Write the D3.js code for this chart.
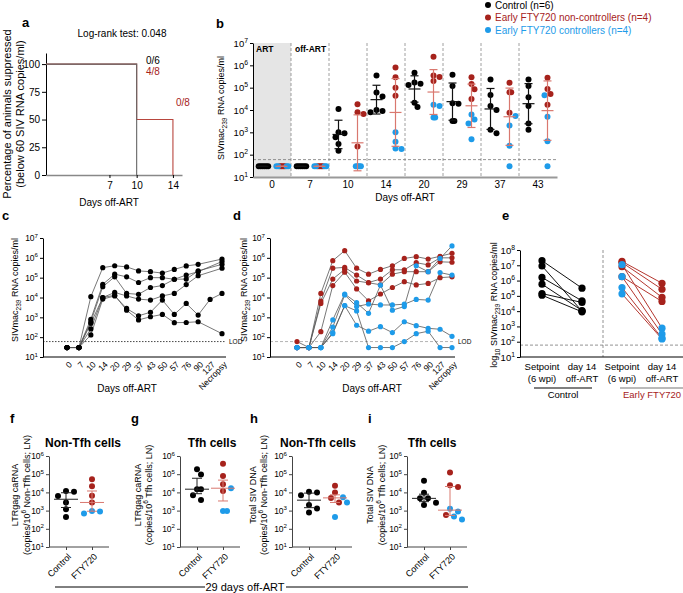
<!DOCTYPE html>
<html><head><meta charset="utf-8">
<script src="https://cdn.jsdelivr.net/npm/d3@7/dist/d3.min.js"></script>
<style>html,body{margin:0;padding:0;background:#fff;} svg{display:block}</style>
</head><body>
<svg id="fig" width="683" height="593"></svg>
<script>
// ================= DATA =================
const RED = "#a6221c", BLUE = "#1e9be9", LRED = "#d9786f";

// panel a
const aTicksX = [7, 10, 14];
const aTicksY = [0, 25, 50, 75, 100];
const aControlSteps = [{day:0,pct:100},{day:10,pct:0}];
const aFtySteps = [{day:0,pct:100},{day:10,pct:50},{day:14,pct:0}];

// panel b (copies/ml)
const bDays = ["0","7","10","14","20","29","37","43"];
const bControl = [
 [30,30,30,30,30,30],
 [30,30,30,30,30,30],
 [1.1e4,1.0e3,9.0e2,6.0e2,3.0e2,1.5e2],
 [3.5e5,6.0e4,4.0e4,1.0e4,9.0e3,8.0e3],
 [4.7e5,1.7e5,1.5e5,1.3e5,2.1e4,1.35e4],
 [3.8e5,1.2e5,2.0e4,1.9e4,3.2e3,3.2e3],
 [2.3e5,4.7e4,1.5e4,1.0e4,1.3e3,9.0e2],
 [2.3e5,1.2e5,3.7e4,1.5e4,2.5e3,1.3e3]
];
const bNonCtrl = [
 [30,30,30,30],[30,30,30,30],
 [1.8e4,8.0e3,6.6e3,2.3e2],
 [8.0e5,2.9e5,1.0e5,4.4e4],
 [2.4e6,3.5e5,3.0e5,2.0e5],
 [2.9e5,1.45e5,8.5e4,3.1e4],
 [1.65e5,6.2e4,6.2e4,7.6e3],
 [2.8e5,8.7e4,5.2e4,1.7e4]
];
const bCtrlr = [
 [30,30,30,30],[30,30,30,30],[30,30,30,30],
 [1.0e3,3.8e2,1.9e2,1.8e2],
 [1.5e4,1.7e4,4.6e3,4.6e3],
 [6.3e3,3.8e3,2.5e3,4.9e2],
 [5.4e3,2.0e3,2.5e2,30],
 [4.6e4,5.0e3,4.0e2,30]
];

// panels c, d
const cDays = ["0","7","10","14","20","29","37","43","50","57","76","90","127","Necropsy"];
const cControl = [
 [30,30,1.1e4,3.2e5,4.0e5,3.5e5,2.2e5,2.0e5,1.7e5,2.6e5,3.9e5,4.7e5,null,8.7e5],
 [30,30,8.0e2,4.6e4,1.5e5,1.1e5,5.7e4,1.0e5,1.0e5,8.3e4,1.35e5,2.0e5,null,6.5e5],
 [30,30,6.0e2,3.5e4,1.1e5,1.6e4,1.45e4,3.2e4,4.0e4,8.3e4,8.5e4,2.2e5,null,4.7e5],
 [30,30,2.6e2,1.0e4,1.8e4,1.2e4,8.3e3,7.4e3,1.2e4,1.6e4,4.5e4,1.25e5,null,3.0e5],
 [30,30,1.3e2,8.3e3,1.2e4,2.8e3,1.2e3,1.8e3,7.4e3,1.4e3,5.0e3,1.3e3,8.0e3,1.6e4],
 [30,30,5.0e2,1.0e4,1.3e4,2.3e3,7.4e2,1.07e3,1.4e3,5.4e2,5.5e2,6.0e2,null,1.5e2]
];
const dNonCtrl = [
 [60,30,1.6e4,7.2e5,2.3e6,3.0e5,1.5e5,2.6e5,4.0e5,9.3e5,1.15e6,8.7e5,1.2e6,1.7e6],
 [30,30,6.6e3,3.0e5,3.3e5,1.35e5,5.7e4,8.5e4,2.5e5,2.5e5,5.7e5,4.4e5,1.0e6,1.0e6],
 [30,30,5.0e3,8.5e4,2.6e5,6.8e4,5.5e4,4.4e4,1.5e5,2.0e5,2.0e5,2.0e5,6.3e5,6.0e5],
 [30,30,1.9e2,4.0e4,1.9e5,2.7e4,6.8e3,1.5e4,3.2e4,6.3e4,4.3e4,5.1e4,1.0e5,1.1e5]
];
const dCtrlr = [
 [30,30,30,7.4e2,1.5e4,5.5e3,1.6e3,4.2e4,2.3e3,3.5e3,4.0e5,2.0e5,9.3e5,4.0e6],
 [30,30,30,3.2e2,1.35e4,3.5e3,4.7e3,4.2e3,4.2e3,4.6e3,8.0e3,7.4e3,1.8e5,1.35e5],
 [30,30,30,1.5e2,3.9e3,4.0e2,2.0e2,3.4e2,1.7e2,6.0e2,3.8e2,2.8e2,2.5e2,1.1e2],
 [30,30,30,1.7e2,3.9e3,2.1e3,30,30,30,60,1.5e2,2.0e2,30,30]
];

// panel e
const eGroups = ["ctrlSet","ctrlD14","ftySet","ftyD14"];
const eCtrlSet = [2.0e7,9.0e6,1.6e6,5.8e5,1.4e5,1.1e5];
const eCtrlD14 = [3.2e5,1.0e4,4.7e4,1.1e4,3.7e4,9.0e3];
const eNCSet = [1.8e7,1.5e7,8.0e6,1.8e6];
const eNCD14 = [6.7e5,2.7e5,8.0e4,4.3e4];
const eCSet = [1.1e7,1.8e6,3.5e5,1.35e5];
const eCD14 = [7.7e2,3.2e2,1.7e2,1.5e2];

// panels f-i (29 days off-ART)
const fiGroups = ["Control","FTY720"];
const fCtrl = [1.2e4,1.1e4,6.3e3,2.8e3,1.2e3,4.4e2], fNC = [5.3e4,2.2e4,6.5e3,2.8e3], fC = [7.0e2,9.5e2,9.0e2];
const gCtrl = [1.9e5,9.5e4,1.5e4,1.5e4,7.0e3,3.8e3], gNC = [3.8e5,8.0e4,2.8e4,1.2e4], gC = [1.7e4,9.5e2,9.5e2];
const hCtrl = [1.1e4,1.0e4,7.0e3,2.0e3,1.3e3,7.8e2], hNC = [2.3e4,1.0e4,5.0e3,2.8e3], hC = [2.8e3,5.4e3,4.4e2];
const iCtrl = [4.4e4,9.5e3,4.7e3,4.7e3,2.7e3,2.0e3], iNC = [1.25e5,2.5e4,2.0e4,5.7e2], iC = [1.25e3,9.0e2,4.7e2,3.2e2];

// ================= HELPERS =================
const svg = d3.select("#fig");
const FONT = "Arial, 'Liberation Sans', Helvetica, sans-serif";
svg.attr("font-family", FONT);

function rich(t, parts, fs){
  let cur = 0;
  parts.forEach(p=>{
    const target = p.sub ? 0.3*fs : p.sup ? -0.42*fs : 0;
    const ts = t.append("tspan").text(p.t);
    if (target !== cur){ ts.attr("dy", target-cur); cur = target; }
    if (p.sub || p.sup) ts.attr("font-size", fs*0.72);
  });
  return t;
}
function txt(g, x, y, str, o={}){
  const fs = o.fs||10;
  const t = g.append("text").attr("x",x).attr("y",y).attr("font-size",fs)
    .attr("fill",o.fill||"#000").attr("text-anchor",o.anchor||"start");
  if(o.bold) t.attr("font-weight","bold");
  if(Array.isArray(str)) rich(t,str,fs); else t.text(str);
  return t;
}
function logAxisLeft(g, y, x, exps, fs, color){
  const a = g.append("g").attr("transform",`translate(${x},0)`)
    .call(d3.axisLeft(y).tickValues(exps.map(e=>Math.pow(10,e))).tickSize(3).tickSizeOuter(0).tickPadding(2).tickFormat(()=>""));
  a.select(".domain").attr("stroke", color||"#000");
  a.selectAll(".tick line").attr("stroke", color||"#000");
  a.selectAll(".tick text").each(function(d){
    const t=d3.select(this).attr("font-size",fs).attr("font-family",FONT).attr("fill","#000");
    rich(t,[{t:"10"},{t:String(Math.round(Math.log10(d))),sup:true}],fs);
  });
  return a;
}
function swarm(items, yfn, step, thr, eqStep){
  const placed=[];
  items.slice().sort((a,b)=>b.v-a.v).forEach(o=>{
    const y=yfn(o.v); let dx=0;
    const same = placed.some(p=>Math.abs(p.y-y)<0.01);
    const st = same ? eqStep : step;
    for(let i=0;i<80;i++){
      dx = i===0?0:(i%2?1:-1)*Math.ceil(i/2)*st;
      const ok = placed.every(p=>{
        const dy=Math.abs(p.y-y);
        if(dy<0.01) return Math.abs(p.dx-dx)>=eqStep-0.01;
        return Math.hypot(p.dx-dx,dy)>=thr;
      });
      if(ok) break;
    }
    placed.push(Object.assign({},o,{y,dx}));
  });
  return placed;
}
function geoSD(vals){ const l=vals.map(Math.log10); const m=d3.mean(l), s=d3.deviation(l)||0; return {c:10**m,lo:10**(m-s),hi:10**(m+s)}; }
function medIQR(vals){ const l=vals.map(Math.log10).sort(d3.ascending); return {c:10**d3.quantile(l,0.5),lo:10**d3.quantile(l,0.25),hi:10**d3.quantile(l,0.75)}; }
function errBar(g, x, y, st, color, hw, cw, sw){
  const s = g.append("g").attr("stroke",color).attr("stroke-width",sw||1.2).attr("fill","none");
  s.append("line").attr("x1",x).attr("x2",x).attr("y1",y(st.hi)).attr("y2",y(st.lo));
  s.append("line").attr("x1",x-cw).attr("x2",x+cw).attr("y1",y(st.hi)).attr("y2",y(st.hi));
  s.append("line").attr("x1",x-cw).attr("x2",x+cw).attr("y1",y(st.lo)).attr("y2",y(st.lo));
  s.append("line").attr("x1",x-hw).attr("x2",x+hw).attr("y1",y(st.c)).attr("y2",y(st.c));
}

// ================= PANEL a =================
{
  const g = svg.append("g");
  const x = d3.scaleLinear().domain([0,15]).range([46,182]);
  const y = d3.scaleLinear().domain([0,110]).range([175,53]);
  txt(g,22,27,"a",{fs:13,bold:true});
  txt(g,122,37,"Log-rank test: 0.048",{fs:10,anchor:"middle"});
  const ya = g.append("g").attr("transform","translate(46,0)")
    .call(d3.axisLeft(y).tickValues(aTicksY).tickSize(4).tickSizeOuter(0).tickPadding(2));
  ya.selectAll("text").attr("font-size",10).attr("font-family",FONT);
  const xa = g.append("g").attr("transform","translate(0,175)")
    .call(d3.axisBottom(x).tickValues(aTicksX).tickSize(3).tickSizeOuter(0).tickPadding(4));
  xa.select(".domain").attr("stroke","#888").attr("stroke-width",1.5);
  xa.selectAll("text").attr("font-size",10).attr("font-family",FONT);
  const line = d3.line().x(d=>x(d.day)).y(d=>y(d.pct)).curve(d3.curveStepAfter);
  g.append("path").datum(aFtySteps).attr("d",line).attr("fill","none").attr("stroke","#b8463e").attr("stroke-width",1.1);
  g.append("path").datum(aControlSteps).attr("d",line).attr("fill","none").attr("stroke","#666").attr("stroke-width",1.1);
  txt(g,146,64,"0/6",{fs:10});
  txt(g,146,75,"4/8",{fs:10,fill:RED});
  txt(g,176,106,"0/8",{fs:10,fill:RED});
  const t = g.append("text").attr("transform","translate(11,114) rotate(-90)").attr("text-anchor","middle").attr("font-size",11);
  t.append("tspan").attr("x",0).attr("y",0).text("Percentage of animals suppressed");
  t.append("tspan").attr("x",0).attr("y",13).text("(below 60 SIV RNA copies/ml)");
  txt(g,109,206,"Days off-ART",{fs:10,anchor:"middle"});
}

// ================= PANEL b =================
{
  const g = svg.append("g");
  const x = d3.scaleBand().domain(bDays).range([253,557]);
  const y = d3.scaleLog().domain([10,1e7]).range([177,43]);
  const bw = x.bandwidth();
  txt(g,216,28,"b",{fs:13,bold:true});
  g.append("rect").attr("x",x("0")).attr("y",y(1e7)).attr("width",bw).attr("height",y(10)-y(1e7)).attr("fill","#e5e5e5");
  bDays.slice(1).forEach(d=>g.append("line").attr("x1",x(d)).attr("x2",x(d)).attr("y1",y(1e7)).attr("y2",y(10))
    .attr("stroke","#888").attr("stroke-width",0.8).attr("stroke-dasharray","3,2"));
  g.append("line").attr("x1",253).attr("x2",557).attr("y1",y(60)).attr("y2",y(60))
    .attr("stroke","#777").attr("stroke-width",0.8).attr("stroke-dasharray","3,2");
  txt(g,256,52,"ART",{fs:8.5,bold:true});
  txt(g,295,52,"off-ART",{fs:8.5,bold:true});
  logAxisLeft(g,y,253,[1,2,3,4,5,6,7],9.5);
  const xa = g.append("g").attr("transform","translate(0,177)").call(d3.axisBottom(x).tickSize(0).tickSizeOuter(0).tickPadding(4));
  xa.select(".domain").attr("stroke","#999").attr("stroke-width",2);
  xa.selectAll("text").attr("font-size",10).attr("font-family",FONT);
  bDays.forEach((d,i)=>{
    const cx1 = x(d)+bw*0.25, cx2 = x(d)+bw*0.75;
    const s1 = swarm(bControl[i].map(v=>({v,c:"#000"})), y, 3, 5.2, 1.9);
    const s2 = swarm(bNonCtrl[i].map(v=>({v,c:RED})).concat(bCtrlr[i].map(v=>({v,c:BLUE}))), y, 3, 5.2, 1.7);
    s1.forEach(p=>g.append("circle").attr("cx",cx1+p.dx).attr("cy",p.y).attr("r",3).attr("fill",p.c));
    s2.forEach(p=>g.append("circle").attr("cx",cx2+p.dx).attr("cy",p.y).attr("r",3).attr("fill",p.c));
    errBar(g,cx1,y,geoSD(bControl[i]),"#111",6,4,1.2);
    errBar(g,cx2,y,geoSD(bNonCtrl[i].concat(bCtrlr[i])),LRED,6,4,1.2);
  });
  const yl = txt(g,0,0,[{t:"SIVmac"},{t:"239",sub:true},{t:" RNA copies/ml"}],{fs:9,anchor:"middle"});
  yl.attr("transform","translate(224,108) rotate(-90)");
  txt(g,405,201,"Days off-ART",{fs:10,anchor:"middle"});
  // legend
  const leg = [["Control (n=6)","#000"],["Early FTY720 non-controllers (n=4)",RED],["Early FTY720 controllers (n=4)",BLUE]];
  leg.forEach((l,i)=>{
    g.append("circle").attr("cx",488).attr("cy",5+i*12.5).attr("r",3).attr("fill",l[1]);
    txt(g,495,8.5+i*12.5,l[0],{fs:10,fill:l[1]});
  });
}

// ================= PANELS c, d =================
function timeCourse(g, axX, xr, axEnd, series, lodStyle, lodColor){
  const x = d3.scalePoint().domain(cDays).range(xr);
  const y = d3.scaleLog().domain([10,1e7]).range([357,238]);
  g.append("line").attr("x1",axX).attr("x2",axEnd).attr("y1",y(60)).attr("y2",y(60))
    .attr("stroke",lodColor).attr("stroke-width",0.9).attr("stroke-dasharray",lodStyle);
  txt(g,axEnd+3,y(60)+2.5,"LOD",{fs:6.5});
  logAxisLeft(g,y,axX,[1,2,3,4,5,6,7],8.5);
  const xa = g.append("g").attr("transform","translate(0,357)").call(d3.axisBottom(x).tickSize(0).tickSizeOuter(0));
  xa.select(".domain").attr("d",`M${axX},0H${axEnd}`).attr("stroke","#000");
  xa.selectAll(".tick text").attr("font-size",8.5).attr("font-family",FONT).attr("text-anchor","end")
    .attr("x",0).attr("y",0).attr("dy","0.35em").attr("transform","translate(3,6) rotate(-45)");
  const line = d3.line().x(d=>x(d.day)).y(d=>y(d.v));
  const pts = series.map(s=>({c:s.c, pts:s.vals.map((v,i)=>({day:cDays[i],v})).filter(p=>p.v!=null)}));
  pts.forEach(s=>g.append("path").datum(s.pts).attr("d",line).attr("fill","none").attr("stroke","#555").attr("stroke-width",0.8));
  pts.forEach(s=>s.pts.forEach(p=>g.append("circle").attr("cx",x(p.day)).attr("cy",y(p.v)).attr("r",2.6).attr("fill",s.c)));
  return {x,y};
}
{
  const g = svg.append("g");
  txt(g,2,220,"c",{fs:13,bold:true});
  timeCourse(g,43,[67,222],226,cControl.map(v=>({vals:v,c:"#000"})),"1.5,1.5","#333");
  const yl = txt(g,0,0,[{t:"SIVmac"},{t:"239",sub:true},{t:" RNA copies/ml"}],{fs:9,anchor:"middle"});
  yl.attr("transform","translate(18,290) rotate(-90)");
  txt(g,127,392,"Days off-ART",{fs:10,anchor:"middle"});
}
{
  const g = svg.append("g");
  txt(g,233,220,"d",{fs:13,bold:true});
  timeCourse(g,270,[297,452],455,dNonCtrl.map(v=>({vals:v,c:RED})).concat(dCtrlr.map(v=>({vals:v,c:BLUE}))),"3,2","#aaa");
  const yl = txt(g,0,0,[{t:"SIVmac"},{t:"239",sub:true},{t:" RNA copies/ml"}],{fs:9,anchor:"middle"});
  yl.attr("transform","translate(247,290) rotate(-90)");
  txt(g,372,392,"Days off-ART",{fs:10,anchor:"middle"});
}

// ================= PANEL e =================
{
  const g = svg.append("g");
  const x = d3.scalePoint().domain(eGroups).range([542,662]);
  const y = d3.scaleLog().domain([10,1e8]).range([357,250]);
  txt(g,502,220,"e",{fs:13,bold:true});
  g.append("line").attr("x1",603).attr("x2",603).attr("y1",250).attr("y2",357).attr("stroke","#777").attr("stroke-width",0.8).attr("stroke-dasharray","3,2");
  g.append("line").attr("x1",520).attr("x2",683).attr("y1",y(60)).attr("y2",y(60)).attr("stroke","#777").attr("stroke-width",0.8).attr("stroke-dasharray","3,2");
  logAxisLeft(g,y,520,[1,2,3,4,5,6,7,8],9.5);
  const xa = g.append("g").attr("transform","translate(0,357)").call(d3.axisBottom(x).tickSize(0).tickSizeOuter(0).tickFormat(()=>""));
  xa.select(".domain").attr("d","M520,0H683").attr("stroke","#000");
  const pairs = [];
  eCtrlSet.forEach((v,i)=>pairs.push({a:v,b:eCtrlD14[i],ga:"ctrlSet",gb:"ctrlD14",c:"#000",lc:"#111"}));
  eNCSet.forEach((v,i)=>pairs.push({a:v,b:eNCD14[i],ga:"ftySet",gb:"ftyD14",c:RED,lc:"#b5362e"}));
  eCSet.forEach((v,i)=>pairs.push({a:v,b:eCD14[i],ga:"ftySet",gb:"ftyD14",c:BLUE,lc:"#b5362e"}));
  pairs.forEach(p=>g.append("line").attr("x1",x(p.ga)).attr("x2",x(p.gb)).attr("y1",y(p.a)).attr("y2",y(p.b)).attr("stroke",p.lc).attr("stroke-width",1));
  pairs.forEach(p=>{
    g.append("circle").attr("cx",x(p.ga)).attr("cy",y(p.a)).attr("r",3.6).attr("fill",p.c);
    g.append("circle").attr("cx",x(p.gb)).attr("cy",y(p.b)).attr("r",3.6).attr("fill",p.c);
  });
  [["ctrlSet","Setpoint","(6 wpi)"],["ctrlD14","day 14","off-ART"],["ftySet","Setpoint","(6 wpi)"],["ftyD14","day 14","off-ART"]].forEach(l=>{
    txt(g,x(l[0]),370,l[1],{fs:9.5,anchor:"middle"});
    txt(g,x(l[0]),382,l[2],{fs:9.5,anchor:"middle"});
  });
  g.append("line").attr("x1",534).attr("x2",592).attr("y1",388).attr("y2",388).attr("stroke","#000").attr("stroke-width",1.2);
  txt(g,563,398,"Control",{fs:9.5,anchor:"middle"});
  g.append("line").attr("x1",620).attr("x2",683).attr("y1",388).attr("y2",388).attr("stroke","#777").attr("stroke-width",1.2);
  txt(g,623,398,"Early FTY720",{fs:9.5,fill:RED});
  const yl = txt(g,0,0,[{t:"log"},{t:"10",sub:true},{t:" SIVmac"},{t:"239",sub:true},{t:" RNA copies/ml"}],{fs:9,anchor:"middle"});
  yl.attr("transform","translate(497,305) rotate(-90)");
}

// ================= PANELS f-i =================
function dotPanel(o){
  const g = svg.append("g");
  const y = d3.scaleLog().domain([10,1e6]).range([547,456]);
  const x = d3.scalePoint().domain(fiGroups).range([o.ax+17,o.ax+43]);
  txt(g,o.lx,423,o.letter,{fs:13,bold:true});
  txt(g,o.tx,447,o.title,{fs:12,bold:true,anchor:"middle"});
  logAxisLeft(g,y,o.ax,[1,2,3,4,5,6],8.5,"#444");
  const xa = g.append("g").attr("transform","translate(0,547)").call(d3.axisBottom(x).tickSize(3).tickSizeOuter(0));
  xa.select(".domain").attr("d",`M${o.ax},0H${o.ax+60}`).attr("stroke","#444");
  xa.selectAll(".tick line").attr("stroke","#444");
  xa.selectAll(".tick text").attr("font-size",9).attr("font-family",FONT).attr("text-anchor","end")
    .attr("x",0).attr("y",0).attr("dy","0.35em").attr("transform","translate(3,8) rotate(-45)");
  const s1 = swarm(o.ctrl.map(v=>({v,c:"#000"})), y, 4, 6.5, 4);
  const s2 = swarm(o.nc.map(v=>({v,c:RED})).concat(o.cc.map(v=>({v,c:BLUE}))), y, 4, 6.5, 4);
  s1.forEach(p=>g.append("circle").attr("cx",x("Control")+p.dx).attr("cy",p.y).attr("r",3).attr("fill",p.c));
  s2.forEach(p=>g.append("circle").attr("cx",x("FTY720")+p.dx).attr("cy",p.y).attr("r",3).attr("fill",p.c));
  errBar(g,x("Control"),y,medIQR(o.ctrl),"#222",12,5,1);
  errBar(g,x("FTY720"),y,medIQR(o.nc.concat(o.cc)),LRED,12,5,1);
  const t1 = txt(g,0,0,o.yl1,{fs:9,anchor:"middle"}); t1.attr("transform",`translate(${o.yx1},495) rotate(-90)`);
  const t2 = txt(g,0,0,o.yl2,{fs:9,anchor:"middle"}); t2.attr("transform",`translate(${o.yx2},495) rotate(-90)`);
}
dotPanel({letter:"f",lx:10,ax:49,tx:83,title:"Non-Tfh cells",ctrl:fCtrl,nc:fNC,cc:fC,
  yl1:"LTRgag caRNA",yl2:[{t:"(copies/10"},{t:"6",sup:true},{t:" Non-Tfh cells; LN)"}],yx1:18,yx2:30});
dotPanel({letter:"g",lx:131,ax:180,tx:212,title:"Tfh cells",ctrl:gCtrl,nc:gNC,cc:gC,
  yl1:"LTRgag caRNA",yl2:[{t:"(copies/10"},{t:"6",sup:true},{t:" Tfh cells; LN)"}],yx1:141,yx2:152});
dotPanel({letter:"h",lx:250,ax:292,tx:318,title:"Non-Tfh cells",ctrl:hCtrl,nc:hNC,cc:hC,
  yl1:"Total SIV DNA",yl2:[{t:"(copies/10"},{t:"6",sup:true},{t:" Non-Tfh cells; LN)"}],yx1:256,yx2:267});
dotPanel({letter:"i",lx:368,ax:407,tx:432,title:"Tfh cells",ctrl:iCtrl,nc:iNC,cc:iC,
  yl1:"Total SIV DNA",yl2:[{t:"(copies/10"},{t:"6",sup:true},{t:" Tfh cells; LN)"}],yx1:373,yx2:385});
{
  const g = svg.append("g");
  g.append("line").attr("x1",55).attr("x2",205).attr("y1",587).attr("y2",587).attr("stroke","#000").attr("stroke-width",1);
  g.append("line").attr("x1",286).attr("x2",468).attr("y1",587).attr("y2",587).attr("stroke","#000").attr("stroke-width",1);
  txt(g,245,591,"29 days off-ART",{fs:11,anchor:"middle"});
}
</script>
</body></html>
